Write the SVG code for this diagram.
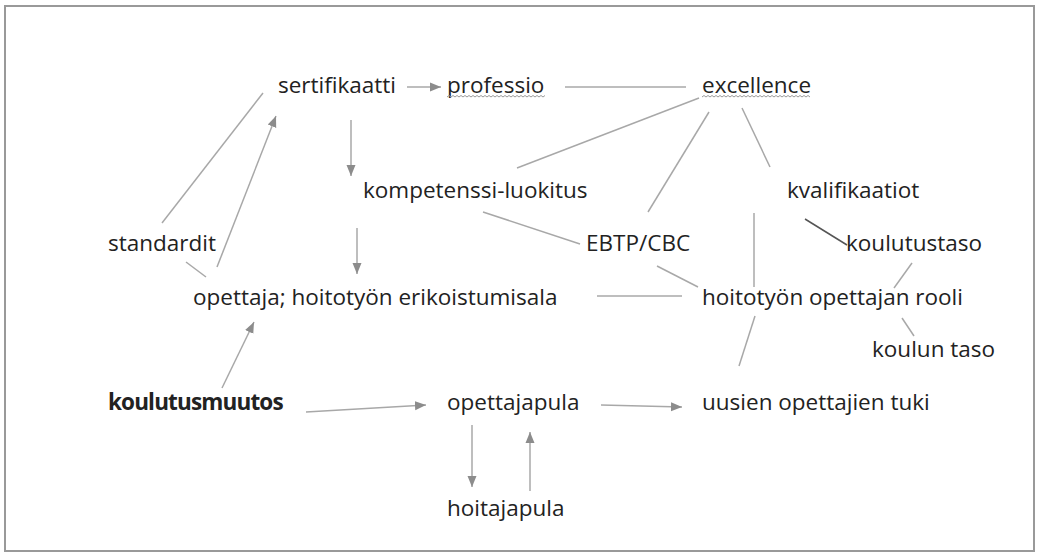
<svg xmlns="http://www.w3.org/2000/svg" width="1039" height="553" viewBox="0 0 1039 553">
<defs>
<marker id="ah" markerUnits="userSpaceOnUse" markerWidth="12" markerHeight="12" viewBox="0 0 12 12" refX="11" refY="6" orient="auto">
<path d="M0,1.5 L11,6 L0,10.5 Z" fill="#8c8c8c"/>
</marker>
<style>
.t{font-family:"Open Sans","Liberation Sans",sans-serif;font-size:22.5px;fill:#222222}
.b{font-weight:bold;letter-spacing:-0.85px}
.c line{stroke:#a8a8a8;stroke-width:1.5;fill:none}
.c .a{marker-end:url(#ah)}
.c .d{stroke:#555}
.sq{stroke:#9a9a9a;stroke-width:1;fill:none}
</style>
</defs>
<rect x="0" y="0" width="1039" height="553" fill="#ffffff"/>
<rect x="5" y="6" width="1029" height="545" fill="none" stroke="#999" stroke-width="2"/>
<g class="c" id="connectors">
<line class="a" x1="407" y1="87" x2="441" y2="87"/>
<line x1="565" y1="87" x2="686" y2="87"/>
<line class="a" x1="351" y1="120" x2="351" y2="176"/>
<line x1="162" y1="223" x2="263" y2="93"/>
<line class="a" x1="217" y1="267" x2="276" y2="116"/>
<line x1="186" y1="262" x2="206" y2="277"/>
<line class="a" x1="357" y1="228" x2="357" y2="274"/>
<line x1="699" y1="98" x2="517" y2="168"/>
<line x1="709" y1="112" x2="648" y2="212"/>
<line x1="742" y1="108" x2="770" y2="167"/>
<line x1="483" y1="212" x2="580" y2="244"/>
<line class="d" x1="805" y1="219" x2="847" y2="245"/>
<line x1="754" y1="213" x2="754" y2="287"/>
<line x1="657" y1="266" x2="698" y2="287"/>
<line x1="912" y1="263" x2="894" y2="288"/>
<line x1="597" y1="296" x2="682" y2="296"/>
<line x1="902" y1="318" x2="914" y2="336"/>
<line x1="755" y1="316" x2="739" y2="366"/>
<line class="a" x1="222" y1="388" x2="254" y2="322"/>
<line class="a" x1="306" y1="412" x2="426" y2="405"/>
<line class="a" x1="601" y1="405" x2="682" y2="407"/>
<line class="a" x1="472" y1="425" x2="472" y2="487"/>
<line class="a" x1="530" y1="491" x2="530" y2="432"/>
</g>
<g id="n-sertifikaatti"><text class="t" x="278" y="93">sertifikaatti</text></g>
<g id="n-professio"><text class="t" x="447" y="93">professio</text><path class="sq" d="M447,97 l2,-1.5 l2,1.5 l2,-1.5 l2,1.5 l2,-1.5 l2,1.5 l2,-1.5 l2,1.5 l2,-1.5 l2,1.5 l2,-1.5 l2,1.5 l2,-1.5 l2,1.5 l2,-1.5 l2,1.5 l2,-1.5 l2,1.5 l2,-1.5 l2,1.5 l2,-1.5 l2,1.5 l2,-1.5 l2,1.5 l2,-1.5 l2,1.5 l2,-1.5 l2,1.5 l2,-1.5 l2,1.5 l2,-1.5 l2,1.5 l2,-1.5 l2,1.5 l2,-1.5 l2,1.5 l2,-1.5 l2,1.5 l2,-1.5 l2,1.5 l2,-1.5 l2,1.5 l2,-1.5 l2,1.5 l2,-1.5 l2,1.5 l2,-1.5 l2,1.5 l2,-1.5"/></g>
<g id="n-excellence"><text class="t" x="702" y="93">excellence</text><path class="sq" d="M702,97 l2,-1.5 l2,1.5 l2,-1.5 l2,1.5 l2,-1.5 l2,1.5 l2,-1.5 l2,1.5 l2,-1.5 l2,1.5 l2,-1.5 l2,1.5 l2,-1.5 l2,1.5 l2,-1.5 l2,1.5 l2,-1.5 l2,1.5 l2,-1.5 l2,1.5 l2,-1.5 l2,1.5 l2,-1.5 l2,1.5 l2,-1.5 l2,1.5 l2,-1.5 l2,1.5 l2,-1.5 l2,1.5 l2,-1.5 l2,1.5 l2,-1.5 l2,1.5 l2,-1.5 l2,1.5 l2,-1.5 l2,1.5 l2,-1.5 l2,1.5 l2,-1.5 l2,1.5 l2,-1.5 l2,1.5 l2,-1.5 l2,1.5 l2,-1.5 l2,1.5 l2,-1.5 l2,1.5 l2,-1.5 l2,1.5 l2,-1.5 l2,1.5"/></g>
<g id="n-kompetenssi"><text class="t" x="363" y="198">kompetenssi-luokitus</text></g>
<g id="n-kvalifikaatiot"><text class="t" x="787" y="198">kvalifikaatiot</text></g>
<g id="n-standardit"><text class="t" x="108" y="251">standardit</text></g>
<g id="n-ebtp"><text class="t" x="586" y="251">EBTP/CBC</text></g>
<g id="n-koulutustaso"><text class="t" x="846" y="251">koulutustaso</text></g>
<g id="n-opettaja"><text class="t" x="193" y="305">opettaja; hoitotyön erikoistumisala</text></g>
<g id="n-rooli"><text class="t" x="702" y="305">hoitotyön opettajan rooli</text></g>
<g id="n-koulun"><text class="t" x="872" y="357">koulun taso</text></g>
<g id="n-koulutusmuutos"><text class="t b" x="108" y="410">koulutusmuutos</text></g>
<g id="n-opettajapula"><text class="t" x="447" y="410">opettajapula</text></g>
<g id="n-uusien"><text class="t" x="702" y="410">uusien opettajien tuki</text></g>
<g id="n-hoitajapula"><text class="t" x="447" y="516">hoitajapula</text></g>
</svg>
